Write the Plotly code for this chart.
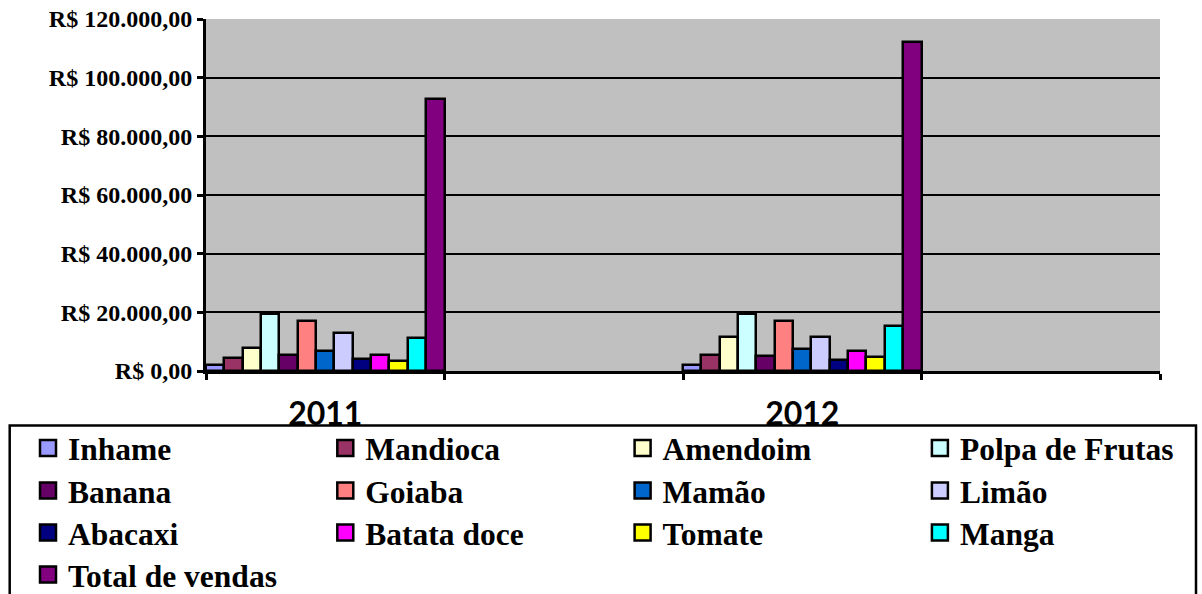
import plotly.graph_objects as go

# Sales by product (R$), one group per year
years = ["2011", "2012"]
products = ["Inhame", "Mandioca", "Amendoim", "Polpa de Frutas",
            "Banana", "Goiaba", "Mamão", "Limão",
            "Abacaxi", "Batata doce", "Tomate", "Manga",
            "Total de vendas"]
sales_2011 = [2100, 4400, 7950, 19300, 5350, 17150, 6900, 12850,
              4000, 5450, 3500, 11350, 92700]
sales_2012 = [2100, 5550, 11700, 19300, 5200, 17150, 7400, 11500,
              3850, 6900, 4650, 15450, 112300]
colors = ["#9999FF", "#993366", "#FFFFCC", "#CCFFFF",
          "#660066", "#FF8080", "#0066CC", "#CCCCFF",
          "#000080", "#FF00FF", "#FFFF00", "#00FFFF",
          "#800080"]

# each year is followed by an empty slot on the category axis
slots = []
for i, yr in enumerate(years):
    slots += [yr, " " * (i + 1)]

W, H = 1202, 594
ML, MR, MT, MB = 206, 42, 19, 223
PW, PH = W - ML - MR, H - MT - MB


def fx(px):
    return (px - ML) / PW


def fy(py):
    return (H - MB - py) / PH


SERIF = "Liberation Serif"
LEG_SIZE = 31.5
N_COLS = 4

fig = go.Figure()

for k, name in enumerate(products):
    vals = []
    for v in (sales_2011[k], sales_2012[k]):
        vals += [v, None]
    fig.add_trace(go.Bar(
        x=slots, y=vals, name=name, showlegend=False,
        marker=dict(color=colors[k], line=dict(color="black", width=2.5)),
    ))

# legend entries, laid out row by row in four columns
for k, name in enumerate(products):
    row, col = divmod(k, N_COLS)
    leg_id = "legend" if row == 0 else f"legend{row + 1}"
    fig.add_trace(go.Scatter(
        x=[None], y=[None], mode="markers", name=name,
        legend=leg_id, legendwidth=252.3 if col < N_COLS - 1 else 222,
        marker=dict(symbol="square", size=16, color=colors[k],
                    line=dict(color="black", width=2.5)),
    ))

row_centers = [448, 490.5, 532.5, 574.5]
item_half = (LEG_SIZE * 1.3 + 3) / 2 + 5
legends = {}
for r, yc in enumerate(row_centers):
    key = "legend" if r == 0 else f"legend{r + 1}"
    legends[key] = dict(
        orientation="h", x=fx(28), xanchor="left",
        y=fy(yc - item_half), yanchor="top",
        bgcolor="rgba(0,0,0,0)", borderwidth=0, itemsizing="trace",
        font=dict(family=SERIF, size=LEG_SIZE, color="black", weight="bold"),
    )

fig.update_layout(
    width=W, height=H,
    margin=dict(l=ML, r=MR, t=MT, b=MB, autoexpand=False),
    paper_bgcolor="white", plot_bgcolor="#C0C0C0",
    barmode="group", bargap=0, bargroupgap=0,
    separators=",.",
    **legends,
    shapes=[dict(
        type="rect", xref="paper", yref="paper", layer="above",
        x0=fx(9.7), x1=fx(1196), y0=fy(425.5), y1=fy(615),
        fillcolor="white", line=dict(color="black", width=2.5),
    )],
)

fig.update_xaxes(
    type="category", categoryorder="array", categoryarray=slots,
    tickson="boundaries", ticks="outside", ticklen=6, tickwidth=2.5,
    tickcolor="black", showline=True, linecolor="black", linewidth=3,
    showgrid=False, ticklabelstandoff=13,
    tickfont=dict(family="Lato", size=32, color="black", weight="bold"),
)
fig.update_yaxes(
    range=[0, 120000], tick0=0, dtick=20000,
    tickprefix="R$ ", tickformat=",.2f",
    showgrid=True, gridcolor="black", gridwidth=2,
    showline=True, linecolor="black", linewidth=3, zeroline=False,
    ticks="outside", ticklen=6, tickwidth=2.5, tickcolor="black",
    tickfont=dict(family=SERIF, size=24, color="black", weight="bold"),
)

fig.write_html("out.html")
